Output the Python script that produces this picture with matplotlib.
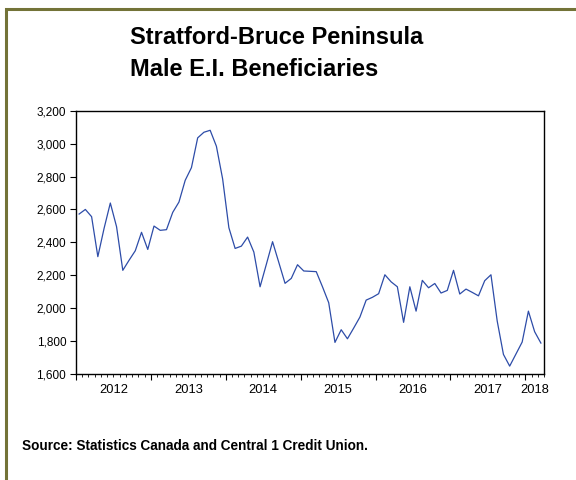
import numpy as np
import matplotlib
matplotlib.use('Agg')
from matplotlib import pyplot as plt
from matplotlib.patches import Rectangle
from matplotlib.ticker import FuncFormatter, MultipleLocator, FixedLocator

plt.rcParams['font.family'] = ['Liberation Sans', 'DejaVu Sans']

# monthly values, Jan 2012 .. Mar 2018
start_year = 2012
beneficiaries = [
    2572, 2600, 2556, 2313, 2485, 2639, 2495, 2230, 2291, 2349, 2461, 2357,
    2499, 2473, 2477, 2582, 2645, 2777, 2854, 3035, 3069, 3081, 2984, 2785,
    2489, 2363, 2377, 2432, 2341, 2130, 2266, 2404, 2278, 2151, 2181, 2264,
    2226, 2224, 2222, 2130, 2033, 1792, 1869, 1814, 1879, 1946, 2049, 2066,
    2088, 2203, 2160, 2130, 1914, 2130, 1982, 2169, 2124, 2150, 2092, 2108,
    2230, 2086, 2116, 2096, 2075, 2167, 2203, 1922, 1719, 1648, 1721, 1794,
    1982, 1857, 1788,
]
year_labels = ['2012', '2013', '2014', '2015', '2016', '2017', '2018']

title_lines = ['Stratford-Bruce Peninsula', 'Male E.I. Beneficiaries']
source_text = 'Source: Statistics Canada and Central 1 Credit Union.'

values = np.array(beneficiaries)
months = start_year + (np.arange(len(values)) + 0.5) / 12
x_end = start_year + len(values) / 12

fig = plt.figure(figsize=(5.76, 4.8), dpi=100)
ax = fig.add_axes([76 / 576, 1 - 374 / 480, (544 - 76) / 576, (374 - 110.7) / 480])

ax.plot(months, values, color='#2d4ca8', lw=0.9)

ax.set_xlim(start_year, x_end)
ax.set_ylim(1600, 3200)

ax.yaxis.set_major_locator(MultipleLocator(200))
ax.yaxis.set_major_formatter(FuncFormatter(lambda v, p: '{:,.0f}'.format(v)))
ax.xaxis.set_major_locator(MultipleLocator(1))
ax.xaxis.set_minor_locator(MultipleLocator(1 / 12))
ax.xaxis.set_major_formatter(FuncFormatter(lambda v, p: ''))

ax.tick_params(axis='y', direction='out', length=4, width=0.8, pad=3, labelsize=8.5)
ax.tick_params(axis='x', which='major', direction='out', length=4, width=0.8)
ax.tick_params(axis='x', which='minor', direction='out', length=2, width=0.6)
for spine in ax.spines.values():
    spine.set_linewidth(1.0)

# year labels centred in each year
label_pos = [min(int(y) + 0.5, (int(y) + x_end) / 2) for y in year_labels]
sec = ax.secondary_xaxis('bottom')
sec.xaxis.set_major_locator(FixedLocator(label_pos))
sec.set_xticklabels(year_labels)
sec.tick_params(length=0, pad=7, labelsize=9.3)
sec.spines['bottom'].set_visible(False)

fig.text(130 / 576, 1 - 44 / 480, title_lines[0], fontsize=17, fontweight='bold',
         ha='left', va='baseline')
fig.text(130 / 576, 1 - 76 / 480, title_lines[1], fontsize=17, fontweight='bold',
         ha='left', va='baseline')
fig.text(22 / 576, 1 - 450 / 480, source_text, fontsize=9.8, fontweight='bold',
         ha='left', va='baseline')

fig.add_artist(Rectangle((5.5 / 576, -0.1), 1.2, 1 - 9 / 480 + 0.1, fill=False,
                         edgecolor='#737338', lw=2.2, transform=fig.transFigure))

fig.savefig('out.png', dpi=100)
